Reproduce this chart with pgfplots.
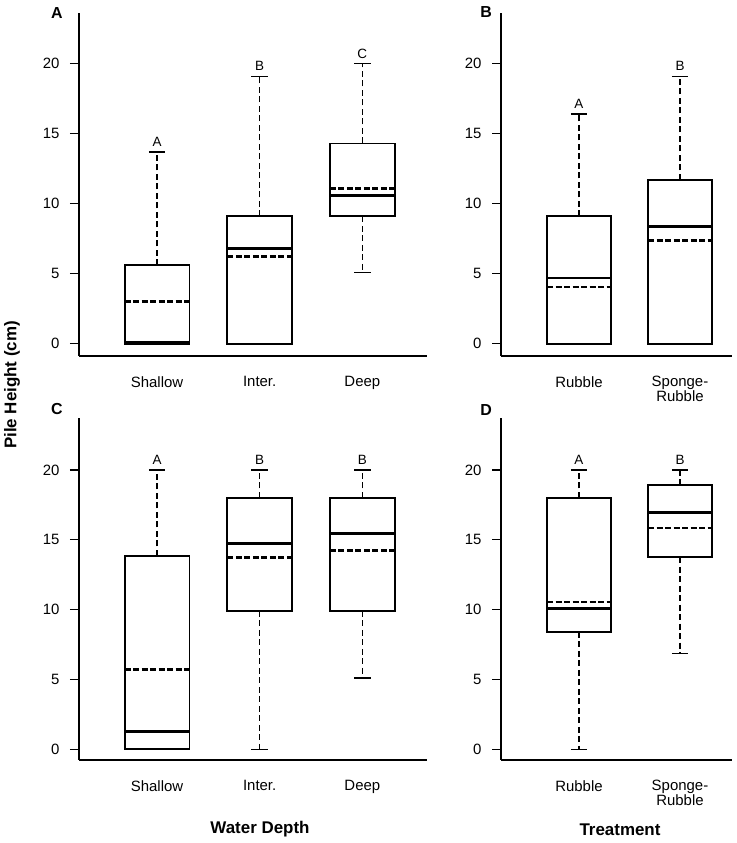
\documentclass[border=0pt]{standalone}
\usepackage{pgfplots}
\pgfplotsset{compat=1.18}
\usepgfplotslibrary{statistics}
\usepackage{fontspec}
\setmainfont{Liberation Sans}
\newcommand{\fs}[1]{\fontsize{#1}{#1}\selectfont}
\pgfplotsset{
  panel/.style={
    scale only axis,
    axis x line*=bottom, axis y line*=left,
    axis line style={black, line width=1.7bp},
    ytick={0,5,10,15,20},
    tick align=outside,
    major tick length=9bp,
    ytick style={black, line width=1.2bp},
    xtick style={draw=none},
    /pgf/number format/assume math mode=true,
    yticklabel style={font=\fs{15}, xshift=-7bp},
    xticklabel style={font=\fs{15}, align=center, yshift=-8bp},
    clip=false,
  },
  bx/.style={black, solid, line width=1.7bp,
    /pgfplots/boxplot/draw direction=y,
    /pgfplots/boxplot/box extend=0.63, /pgfplots/boxplot/whisker extend=0,
    /pgfplots/boxplot/every whisker/.style={dash pattern=on 6bp off 3.5bp, line width=1.1bp},
    /pgfplots/boxplot/every median/.style={line width=3bp}},
  bxthin/.style={bx, /pgfplots/boxplot/every median/.style={line width=1.7bp}},
  mn/.style={black, line width=2.8bp, dash pattern=on 6bp off 2.5bp},
  mnthin/.style={black, line width=1.7bp, dash pattern=on 6bp off 2.5bp},
  cap/.style={black, line width=1.3bp},
}
\newcommand{\lett}[3]{\node[font=\fs{13.5}, inner sep=0pt] at (axis cs:#1,#2) [yshift=10bp] {#3};}
\begin{document}
\begin{tikzpicture}
\useasboundingbox (0bp,0bp) rectangle (737bp,843bp);
% Panel A
\begin{axis}[panel, at={(79bp,487bp)}, anchor=south west, width=348bp, height=343bp,
  xmin=0.24, xmax=3.63, ymin=-0.88, ymax=23.62,
  xtick={1,2,3}, xticklabels={Shallow,Inter.,Deep}]
\addplot[bx, boxplot prepared={draw position=1, lower whisker=0, lower quartile=0, median=0.1, upper quartile=5.6, upper whisker=13.7}] coordinates {};
\addplot[bx, boxplot prepared={draw position=2, lower whisker=0, lower quartile=0, median=6.8, upper quartile=9.1, upper whisker=19.1}] coordinates {};
\addplot[bx, boxplot prepared={draw position=3, lower whisker=5.1, lower quartile=9.1, median=10.6, upper quartile=14.3, upper whisker=20.0}] coordinates {};
\addplot[mn] coordinates {(0.685,3.0) (1.315,3.0)};
\addplot[mn] coordinates {(1.685,6.2) (2.315,6.2)};
\addplot[mn] coordinates {(2.685,11.1) (3.315,11.1)};
\addplot[cap] coordinates {(0.92,13.7) (1.08,13.7)};
\addplot[cap] coordinates {(1.92,19.1) (2.08,19.1)};
\addplot[cap] coordinates {(2.92,20.0) (3.08,20.0)};
\addplot[cap] coordinates {(2.92,5.1) (3.08,5.1)};
\lett{1}{13.7}{A}
\lett{2}{19.1}{B}
\lett{3}{20.0}{C}
\end{axis}
% Panel B
\begin{axis}[panel, at={(501bp,487bp)}, anchor=south west, width=231bp, height=343bp,
  xmin=0.228, xmax=2.515, ymin=-0.88, ymax=23.62,
  xtick={1,2}, xticklabels={Rubble,{Sponge-\\Rubble}}]
\addplot[bxthin, boxplot prepared={draw position=1, lower whisker=0, lower quartile=0, median=4.7, upper quartile=9.1, upper whisker=16.4}] coordinates {};
\addplot[bx, boxplot prepared={draw position=2, lower whisker=0, lower quartile=0, median=8.4, upper quartile=11.7, upper whisker=19.1}] coordinates {};
\addplot[mnthin] coordinates {(0.685,4.05) (1.315,4.05)};
\addplot[mn] coordinates {(1.685,7.35) (2.315,7.35)};
\addplot[cap] coordinates {(0.92,16.4) (1.08,16.4)};
\addplot[cap] coordinates {(1.92,19.1) (2.08,19.1)};
\lett{1}{16.4}{A}
\lett{2}{19.1}{B}
\end{axis}
% Panel C
\begin{axis}[panel, at={(79bp,83bp)}, anchor=south west, width=348bp, height=342bp,
  xmin=0.24, xmax=3.63, ymin=-0.77, ymax=23.72,
  xtick={1,2,3}, xticklabels={Shallow,Inter.,Deep}]
\addplot[bx, boxplot prepared={draw position=1, lower whisker=0, lower quartile=0, median=1.3, upper quartile=13.85, upper whisker=20.0}] coordinates {};
\addplot[bx, boxplot prepared={draw position=2, lower whisker=0, lower quartile=9.9, median=14.75, upper quartile=18.0, upper whisker=20.0}] coordinates {};
\addplot[bx, boxplot prepared={draw position=3, lower whisker=5.1, lower quartile=9.9, median=15.45, upper quartile=18.0, upper whisker=20.0}] coordinates {};
\addplot[mn] coordinates {(0.685,5.7) (1.315,5.7)};
\addplot[mn] coordinates {(1.685,13.75) (2.315,13.75)};
\addplot[mn] coordinates {(2.685,14.25) (3.315,14.25)};
\addplot[cap] coordinates {(0.92,20.0) (1.08,20.0)};
\addplot[cap] coordinates {(1.92,20.0) (2.08,20.0)};
\addplot[cap] coordinates {(1.92,0.0) (2.08,0.0)};
\addplot[cap] coordinates {(2.92,20.0) (3.08,20.0)};
\addplot[cap] coordinates {(2.92,5.1) (3.08,5.1)};
\lett{1}{20.0}{A}
\lett{2}{20.0}{B}
\lett{3}{20.0}{B}
\end{axis}
% Panel D
\begin{axis}[panel, at={(501bp,83bp)}, anchor=south west, width=231bp, height=342bp,
  xmin=0.228, xmax=2.515, ymin=-0.77, ymax=23.72,
  xtick={1,2}, xticklabels={Rubble,{Sponge-\\Rubble}}]
\addplot[bx, boxplot prepared={draw position=1, lower whisker=0, lower quartile=8.4, median=10.05, upper quartile=18.0, upper whisker=20.0}] coordinates {};
\addplot[bx, boxplot prepared={draw position=2, lower whisker=6.85, lower quartile=13.75, median=16.95, upper quartile=18.9, upper whisker=20.0}] coordinates {};
\addplot[mn] coordinates {(0.685,10.55) (1.315,10.55)};
\addplot[mn] coordinates {(1.685,15.85) (2.315,15.85)};
\addplot[cap] coordinates {(0.92,20.0) (1.08,20.0)};
\addplot[cap] coordinates {(0.92,0.0) (1.08,0.0)};
\addplot[cap] coordinates {(1.92,20.0) (2.08,20.0)};
\addplot[cap] coordinates {(1.92,6.85) (2.08,6.85)};
\lett{1}{20.0}{A}
\lett{2}{20.0}{B}
\end{axis}
% titles and panel labels
\node[font=\bfseries\fs{17}, rotate=90] at (12bp,458bp) {Pile Height (cm)};
\node[font=\bfseries\fs{17}] at (260bp,14bp) {Water Depth};
\node[font=\bfseries\fs{17}] at (620bp,13bp) {Treatment};
\node[font=\bfseries\fs{16}] at (57bp,830bp) {A};
\node[font=\bfseries\fs{16}] at (486bp,831bp) {B};
\node[font=\bfseries\fs{16}] at (57bp,434bp) {C};
\node[font=\bfseries\fs{16}] at (486bp,433bp) {D};
\end{tikzpicture}
\end{document}
